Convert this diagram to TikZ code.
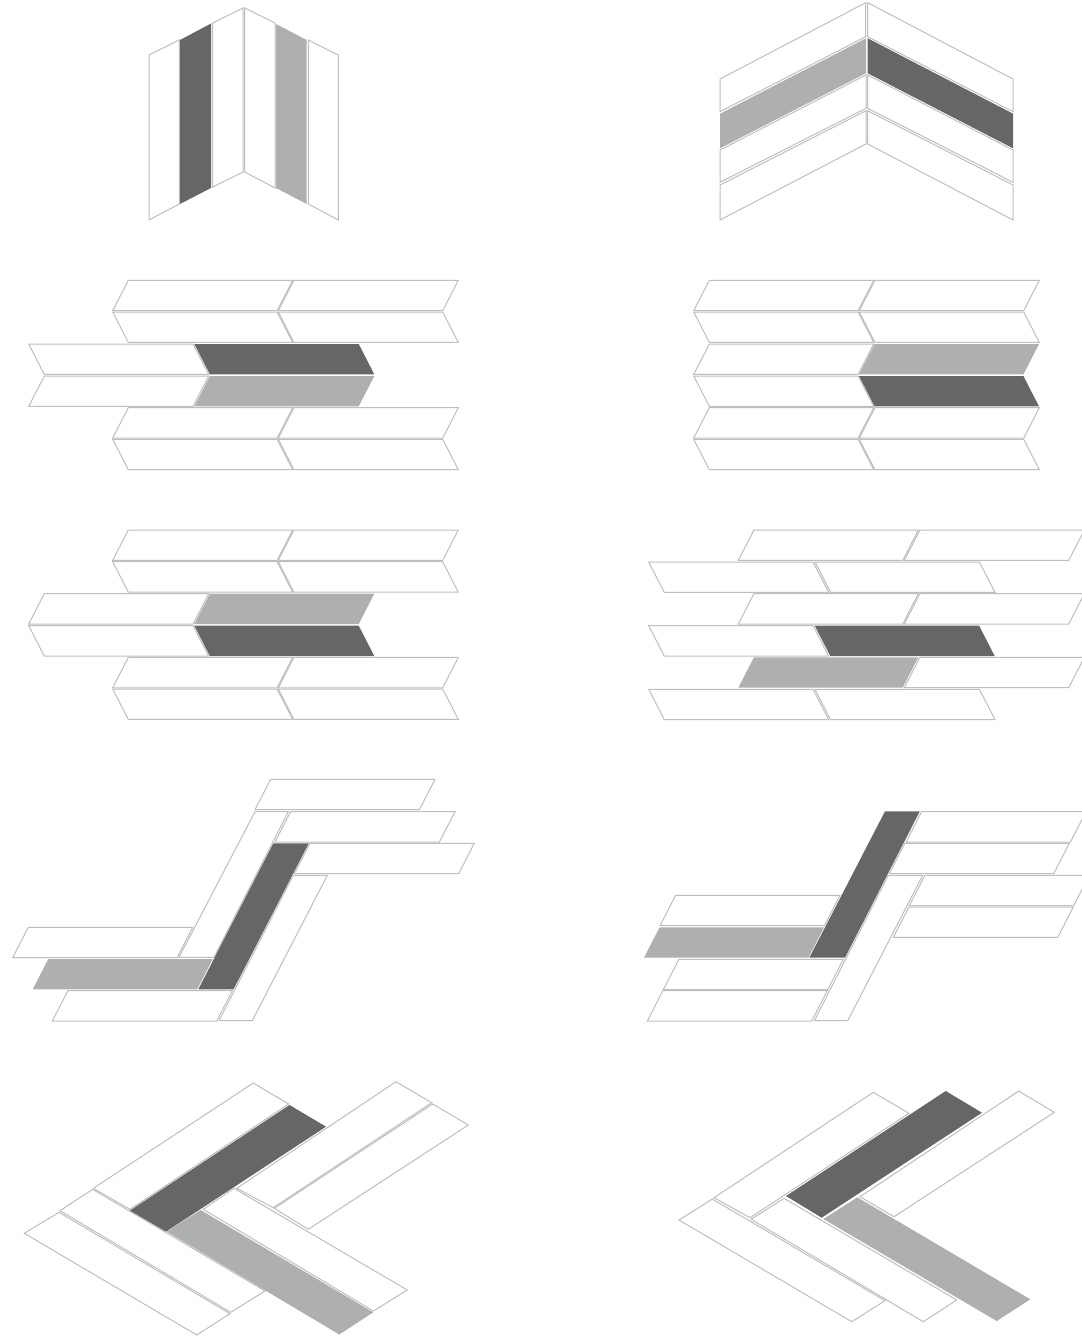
\documentclass[tikz,border=0pt]{standalone}
\usepackage{tikz}
\definecolor{tileline}{HTML}{BEBEBE}
\definecolor{darkgrey}{HTML}{666666}
\definecolor{lightgrey}{HTML}{AEB0AF}
\tikzset{
  tile/.style={draw=tileline, line width=1pt, fill=white, line join=miter},
  darktile/.style={fill=darkgrey},
  lighttile/.style={fill=lightgrey}
}
\newcommand{\tileR}[3][tile]{\path[#1] (#2+15.6,#3) -- (#2+180,#3) -- (#2+164.4,#3+30.4) -- (#2,#3+30.4) -- cycle;}
\newcommand{\tileL}[3][tile]{\path[#1] (#2,#3) -- (#2+164.4,#3) -- (#2+180,#3+30.4) -- (#2+15.6,#3+30.4) -- cycle;}
\newcommand{\slab}[5][tile]{\path[#1] #2 -- #3 -- #4 -- #5 -- cycle;}
\begin{document}
\begin{tikzpicture}[x=1pt, y=-1pt]
  \useasboundingbox (0,0) rectangle (1081,1337);

  % vertical chevron
  \slab{(149,55)}{(179.3,40)}{(179.3,204)}{(149,220)}
  \slab[darktile]{(180,40)}{(211,23.5)}{(211,188)}{(180,204)}
  \slab{(212.7,23)}{(243,8)}{(243,172)}{(212.7,187)}
  \slab{(244.7,8)}{(275,23)}{(275,188)}{(244.7,172)}
  \slab[lighttile]{(276,24)}{(306.7,40)}{(306.7,204)}{(276,188)}
  \slab{(308.3,40)}{(338.3,55)}{(338.3,220)}{(308.3,204)}

  % wide chevron
  \slab{(720,79)}{(865.7,2.7)}{(865.7,36.7)}{(720,111.7)}
  \slab[lighttile]{(720,113.7)}{(866,38.3)}{(866,73.3)}{(720,148.3)}
  \slab{(720,150)}{(866,75)}{(866,108.3)}{(720,182.3)}
  \slab{(720,185)}{(866,110.7)}{(866,144)}{(720,220)}
  \slab{(867.7,2.7)}{(1013,79)}{(1013,111.7)}{(867.7,36.7)}
  \slab[darktile]{(867.7,38.3)}{(1013,113.7)}{(1013,148.3)}{(867.7,73.3)}
  \slab{(867.7,75)}{(1013,150)}{(1013,182.3)}{(867.7,108.3)}
  \slab{(867.7,110.7)}{(1013,185)}{(1013,220)}{(867.7,144)}

  % bricks, second row left
  \foreach \px in {112.7,278.3} {
    \tileR{\px}{280.3}
    \tileL{\px}{312}
    \tileR{\px}{407.7}
    \tileL{\px}{439.3}
  }
  \tileL{28.7}{344}
  \tileL[darktile]{194.3}{344}
  \tileR{28.7}{376}
  \tileR[lighttile]{194.3}{376}

  % bricks, second row right
  \foreach \px in {693.7,859.3} {
    \tileR{\px}{280.3}
    \tileL{\px}{312}
    \tileR{\px}{407.7}
    \tileL{\px}{439.3}
  }
  \tileR{693.7}{344}
  \tileR[lighttile]{859}{344}
  \tileL{693.7}{376}
  \tileL[darktile]{859}{376}

  % bricks, third row left
  \foreach \px in {112.7,278.3} {
    \tileR{\px}{530}
    \tileL{\px}{561.7}
    \tileR{\px}{657.4}
    \tileL{\px}{689}
  }
  \tileR{28.7}{593.7}
  \tileR[lighttile]{194.3}{593.7}
  \tileL{28.7}{625.7}
  \tileL[darktile]{194.3}{625.7}

  % bricks, third row right
  \foreach \py in {530,593.7} {
    \tileR{738.3}{\py}
    \tileR{904.3}{\py}
  }
  \foreach \py in {562,689.3} {
    \tileL{648.7}{\py}
    \tileL{815}{\py}
  }
  \tileL{648.7}{625.7}
  \tileL[darktile]{814.7}{625.7}
  \tileR[lighttile]{738.3}{657.3}
  \tileR{904.3}{657.3}

  % steep herringbone left
  \tileR{255}{779.3}
  \slab{(255,811.7)}{(288.3,811.7)}{(214,957.3)}{(179,957.3)}
  \tileR{275}{811.7}
  \slab[darktile]{(273.3,843.3)}{(308.8,843.3)}{(233.6,989.3)}{(198.3,989.3)}
  \tileR{294.3}{843.3}
  \slab{(293.3,875.3)}{(327.3,875.3)}{(252.3,1020.7)}{(219,1020.7)}
  \tileR{12.7}{927.3}
  \tileR[lighttile]{32.7}{959}
  \tileR{52.3}{990.6}

  % steep herringbone right
  \tileR{906}{811.7}
  \tileR{889.3}{843.3}
  \slab[darktile]{(885,811.3)}{(919.8,811.3)}{(845,957.7)}{(809.3,957.7)}
  \slab{(888.3,875.3)}{(922.7,875.3)}{(847.7,1020.7)}{(814.3,1020.7)}
  \tileR{909.3}{875.3}
  \tileR{893.3}{907}
  \tileR{660}{895.3}
  \tileR[lighttile]{644}{927.3}
  \tileR{663.3}{959.3}
  \tileR{647.3}{990.6}

  % diagonal herringbone left
  \slab{(93.3,1188.3)}{(253.3,1083)}{(288.7,1104)}{(130,1209.3)}
  \slab{(236.7,1188.3)}{(396,1081.7)}{(431.7,1102.7)}{(273.3,1207.7)}
  \slab{(274.3,1208.3)}{(432.7,1104)}{(468.3,1125)}{(308.3,1229.3)}
  \slab{(203.3,1209.3)}{(234,1188.3)}{(407.3,1290)}{(373.3,1311)}
  \slab[darktile]{(129.7,1210.7)}{(289.5,1105)}{(326,1126.7)}{(166,1231.7)}
  \slab[lighttile]{(166.7,1231.7)}{(200.7,1210)}{(373.2,1312.3)}{(339.3,1334.5)}
  \slab{(60,1210.7)}{(92.7,1189.3)}{(265,1291)}{(230.7,1312.3)}
  \slab{(24.3,1233.3)}{(59,1212.3)}{(230,1313.7)}{(196.7,1335)}

  % diagonal herringbone right
  \slab{(714,1197.7)}{(873.3,1092.3)}{(909,1113.3)}{(750,1217.7)}
  \slab{(860,1196.7)}{(1018.7,1091)}{(1054.3,1112.3)}{(894,1216.7)}
  \slab[darktile]{(786,1196)}{(945.7,1091)}{(982,1112.7)}{(821.7,1217.7)}
  \slab{(679,1220)}{(712.3,1199)}{(885,1300.7)}{(851.7,1321.7)}
  \slab{(751,1219.3)}{(784,1198.3)}{(956.7,1300)}{(923.3,1321.7)}
  \slab[lighttile]{(823.3,1219)}{(857.3,1197.3)}{(1030.3,1299.3)}{(996.7,1321)}
\end{tikzpicture}
\end{document}
